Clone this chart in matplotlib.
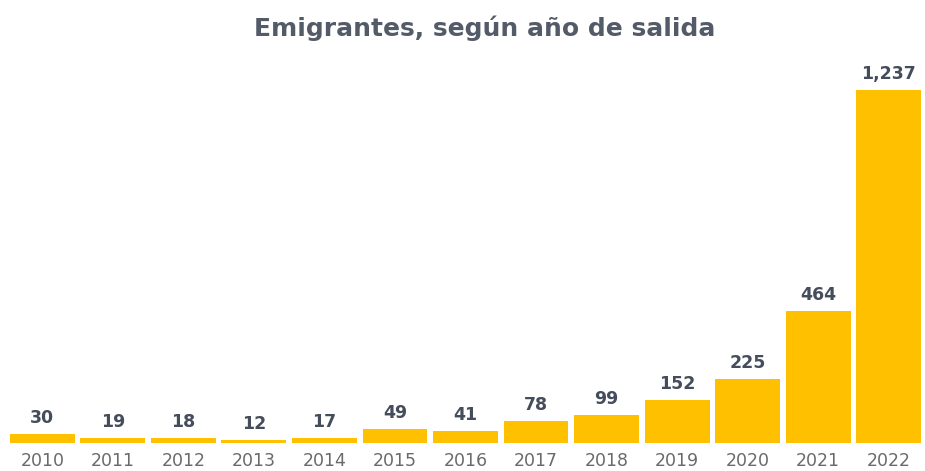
import matplotlib
matplotlib.use("Agg")
import matplotlib.pyplot as plt

years = ["2010", "2011", "2012", "2013", "2014", "2015", "2016",
         "2017", "2018", "2019", "2020", "2021", "2022"]
values = [30, 19, 18, 12, 17, 49, 41, 78, 99, 152, 225, 464, 1237]
value_labels = ["30", "19", "18", "12", "17", "49", "41",
                "78", "99", "152", "225", "464", "1,237"]
title = "Emigrantes, según año de salida"

plt.rcParams['font.family'] = ['DejaVu Sans']

W, H = 925, 471
fig = plt.figure(figsize=(W / 100, H / 100), dpi=100)
left, right = 7, 924
bottom, top = 443, 60
ax = fig.add_axes([left / W, (H - bottom) / H, (right - left) / W, (bottom - top) / H])

x = list(range(len(years)))
bars = ax.bar(x, values, width=0.92, color="#FFC000")
ax.set_xlim(-0.5, len(years) - 0.5)
ax.set_ylim(0, 1342)

for xi, v, lab in zip(x, values, value_labels):
    ax.annotate(lab, (xi, v), xytext=(0, 5), textcoords="offset points",
                ha="center", va="bottom", fontsize=12.5, fontweight="bold",
                color="#454d5c")

ax.set_xticks(x)
ax.set_xticklabels(years, fontsize=12.5, color="#6a6a6a")
ax.tick_params(axis="x", length=0, pad=6.5)
ax.set_yticks([])
for s in ax.spines.values():
    s.set_visible(False)

fig.text(485 / W, 1 - 28 / H, title, ha="center", va="center",
         fontsize=18, fontweight="bold", color="#535b68")

fig.savefig("out.png", dpi=100)
